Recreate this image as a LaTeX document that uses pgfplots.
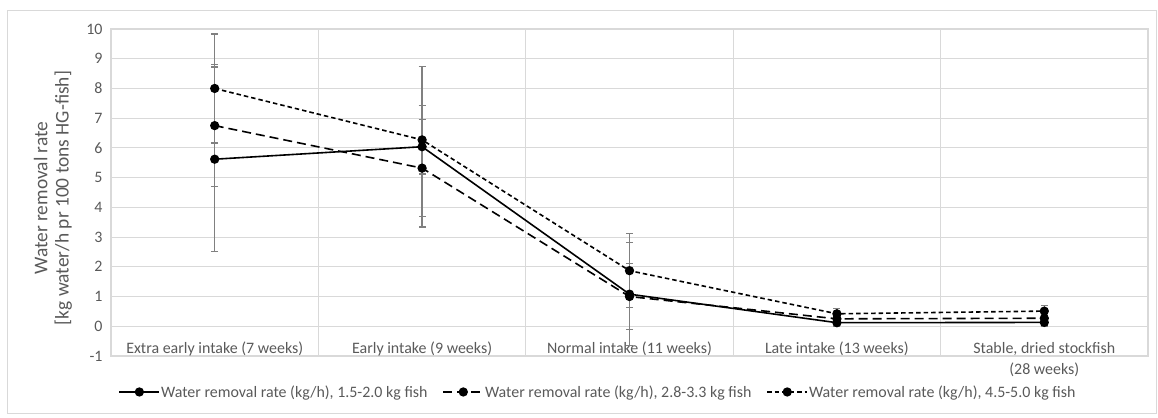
\documentclass[border=0pt]{standalone}
\usepackage{fontspec}
\setmainfont{Carlito}
\usepackage{pgfplots}
\pgfplotsset{compat=1.18}
\definecolor{txt}{HTML}{595959}
\definecolor{grd}{HTML}{D9D9D9}
\definecolor{ebar}{HTML}{808080}
\newcommand{\lf}{\fontsize{16}{19}\selectfont\color{txt}}
\newcommand{\tf}{\fontsize{16}{20}\selectfont\color{txt}}
\newcommand{\yf}{\fontsize{19.5}{22}\selectfont\color{txt}}
\begin{document}
\begin{tikzpicture}
\path[use as bounding box] (0bp,0bp) rectangle (1158bp,418bp);
\draw[grd, line width=0.9bp] (7bp,5bp) rectangle (1156bp,408bp);
\begin{axis}[
  at={(111bp,62bp)}, anchor=south west,
  scale only axis, width=1037bp, height=327bp,
  xmin=-0.5, xmax=4.5, ymin=-1, ymax=10,
  xtick={0,1,2,3,4},
  xticklabels={\tf Extra early intake (7 weeks),\tf Early intake (9 weeks),\tf Normal intake (11 weeks),\tf Late intake (13 weeks),{\tf Stable, dried stockfish\\[7bp]\tf (28 weeks)}},
  ytick={-1,0,1,2,3,4,5,6,7,8,9,10},
  yticklabels={\tf -1,\tf 0,\tf 1,\tf 2,\tf 3,\tf 4,\tf 5,\tf 6,\tf 7,\tf 8,\tf 9,\tf 10},
  minor xtick={0.5,1.5,2.5,3.5},
  xminorgrids=true, ymajorgrids=true,
  grid style={grd, line width=1.1bp},
  minor grid style={grd, line width=1.1bp},
  axis line style={grd, line width=1.1bp},
  major tick length=0pt, minor tick length=0pt,
  tick style={draw=none},
  yticklabel style={xshift=-5bp},
  xticklabel style={align=center, anchor=north, yshift=17.5bp},
  ylabel={\yf Water removal rate\\[6bp]\yf [kg water/h pr 100 tons HG-fish]},
  ylabel style={at={(axis description cs:-0.0560,0.483)}, anchor=center, align=center},
  legend columns=3,
  legend style={draw=none, fill=none, at={(axis description cs:0.4696,-0.110)}, anchor=center,
    /tikz/every odd column/.append style={column sep=-1bp},
    /tikz/every even column/.append style={column sep=13bp}},
  legend image code/.code={\draw[mark repeat=2,mark phase=2,#1] plot coordinates {(0bp,0bp)(20bp,0bp)(40bp,0bp)};},
  error bars/y dir=both, error bars/y explicit,
  error bars/error bar style={ebar, line width=1.3bp, solid},
  error bars/error mark options={rotate=90, mark size=3.5bp, ebar, line width=1.3bp, solid},
]
\addplot[black, line width=1.6bp, mark=*, mark size=3.8bp, mark options={solid, fill=black}]
  table[x=x, y=y, y error=e] {
x y e
0 5.62 3.10
1 6.04 2.70
2 1.08 1.73
3 0.12 0.12
4 0.13 0.12
};
\addlegendentry{\lf Water removal rate (kg/h), 1.5-2.0 kg fish}
\addplot[black, line width=1.6bp, dash pattern=on 9bp off 5bp, mark=*, mark size=3.8bp, mark options={solid, fill=black}]
  table[x=x, y=y, y error=e] {
x y e
0 6.75 2.05
1 5.32 1.63
2 1.00 1.10
3 0.25 0.10
4 0.27 0.10
};
\addlegendentry{\lf Water removal rate (kg/h), 2.8-3.3 kg fish}
\addplot[black, line width=1.6bp, dash pattern=on 4.5bp off 3bp, mark=*, mark size=3.8bp, mark options={solid, fill=black}]
  table[x=x, y=y, y error=e] {
x y e
0 8.00 1.83
1 6.27 1.15
2 1.87 1.25
3 0.42 0.18
4 0.51 0.20
};
\addlegendentry{\lf Water removal rate (kg/h), 4.5-5.0 kg fish}
\end{axis}
\end{tikzpicture}
\end{document}
